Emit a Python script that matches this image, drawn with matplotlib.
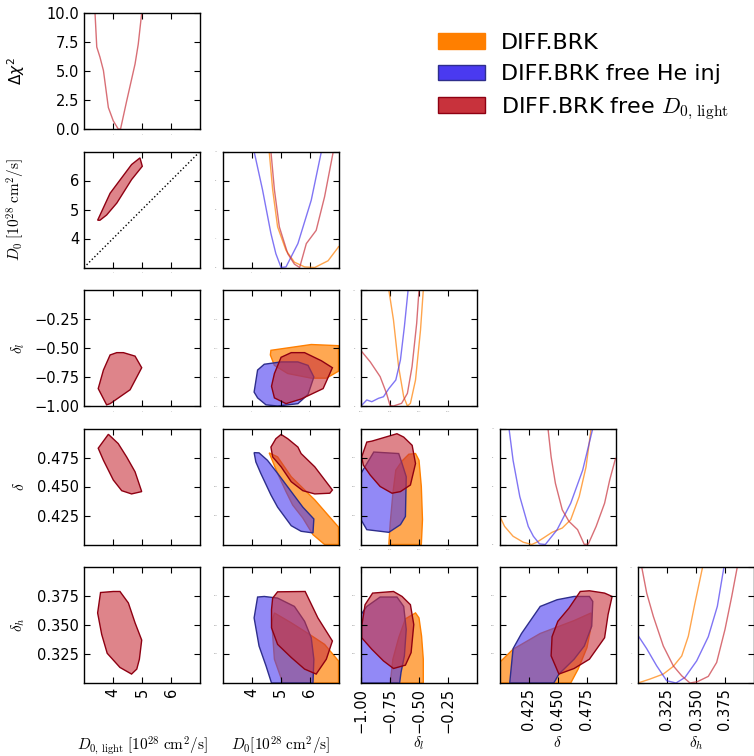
import numpy as np
import matplotlib
import matplotlib.pyplot as plt
from matplotlib.patches import Patch
from matplotlib.colors import to_rgba

# ------------------
# STYLE
# ------------------
plt.rcParams['font.size'] = 10.5
plt.rcParams['xtick.direction'] = 'in'
plt.rcParams['ytick.direction'] = 'in'
plt.rcParams['xtick.top'] = True
plt.rcParams['ytick.right'] = True
plt.rcParams['xtick.major.size'] = 4
plt.rcParams['ytick.major.size'] = 4
plt.rcParams['axes.linewidth'] = 1.0

orange = '#ff7f00'
blue = '#4a3af0'
blue_edge = '#2e2e8c'
red = '#c8323c'
red_edge = '#8e0012'

# ------------------
# AXES SETUP
# ------------------
labels = [r'$D_{0,\,\mathrm{light}}\;[10^{28}\;\mathrm{cm^2/s}]$',
          r'$D_0[10^{28}\;\mathrm{cm^2/s}]$',
          r'$\delta_l$', r'$\delta$', r'$\delta_h$']
row_labels = [r'$\Delta\chi^2$',
              r'$D_0\;[10^{28}\;\mathrm{cm^2/s}]$',
              r'$\delta_l$', r'$\delta$', r'$\delta_h$']
limits = [(3, 7), (3, 7), (-1, 0), (0.4, 0.5), (0.3, 0.4)]
ticks = [[4, 5, 6], [4, 5, 6], [-1.0, -0.75, -0.5, -0.25],
         [0.425, 0.45, 0.475], [0.325, 0.35, 0.375]]
chi_lim = (0, 10)
chi_ticks = [0, 2.5, 5, 7.5, 10]

# ------------------
# 1D PROFILES (Delta chi^2)
# ------------------
chi_D0l_red_x = [3.36, 3.38, 3.44, 3.55, 3.67, 3.84, 4.01, 4.18, 4.26, 4.47, 4.76, 4.87, 4.99, 5.0]
chi_D0l_red_y = [12, 10, 7.07, 6.2, 5.04, 1.85, 0.7, 0.0, 0.0, 2.4, 5.6, 7.3, 10, 10.5]

chi_D0_blue_x = [4.05, 4.09, 4.38, 4.67, 4.84, 5.02, 5.19, 5.6, 6.06, 6.41, 6.45]
chi_D0_blue_y = [11, 10, 6.7, 2.93, 1.19, 0.0, 0.05, 2.06, 5.8, 10, 11]
chi_D0_orange_x = [4.58, 4.61, 4.73, 4.90, 5.19, 5.48, 5.83, 6.18, 6.64, 6.99, 7.0]
chi_D0_orange_y = [11, 10, 6.7, 3.5, 1.48, 0.46, 0.05, 0.0, 0.58, 1.74, 1.8]
chi_D0_red_x = [4.65, 4.67, 4.79, 4.96, 5.25, 5.48, 5.66, 5.89, 6.23, 6.52, 6.82, 6.85]
chi_D0_red_y = [11, 10, 6.7, 3.5, 1.19, 0.29, 0.0, 2.06, 3.2, 6.1, 10, 11]

chi_dl_red_x = [-1.0, -0.92, -0.835, -0.78, -0.75, -0.72, -0.65, -0.60, -0.56, -0.52, -0.50, -0.495]
chi_dl_red_y = [4.77, 3.8, 2.53, 1.09, 0.05, 0.0, 0.23, 1.09, 3.39, 7.13, 10, 11]
chi_dl_blue_x = [-1.0, -0.95, -0.907, -0.85, -0.806, -0.76, -0.70, -0.66, -0.626, -0.594, -0.59]
chi_dl_blue_y = [0.0, 0.52, 0.37, 0.66, 0.8, 1.5, 2.24, 3.97, 6.84, 10, 11]
chi_dl_orange_x = [-0.765, -0.76, -0.72, -0.676, -0.632, -0.60, -0.574, -0.53, -0.487, -0.463, -0.46]
chi_dl_orange_y = [11, 10, 7.41, 3.39, 0.8, 0.0, 0.23, 2.24, 6.55, 10, 11]

chi_d_blue_x = [0.407, 0.4082, 0.4117, 0.4175, 0.4248, 0.4292, 0.4345, 0.4395, 0.4497, 0.4614, 0.4717, 0.4804, 0.481]
chi_d_blue_y = [11, 10, 7.26, 4.13, 1.56, 0.71, 0.05, 0.0, 1.28, 3.56, 6.41, 10, 11]
chi_d_orange_x = [0.4, 0.4044, 0.4117, 0.4204, 0.4278, 0.4322, 0.438, 0.4453, 0.4541, 0.4614, 0.4687, 0.4746, 0.479, 0.48]
chi_d_orange_y = [2.48, 1.56, 0.71, 0.2, 0.0, 0.2, 0.57, 1.05, 1.42, 2.14, 4.13, 6.69, 10, 11]
chi_d_red_x = [0.441, 0.4418, 0.4445, 0.4482, 0.4541, 0.4599, 0.4673, 0.4731, 0.4766, 0.4833, 0.4906, 0.495, 0.5]
chi_d_red_y = [11, 10, 7.55, 5.27, 2.99, 1.99, 1.28, 0.0, 0.05, 1.56, 3.56, 5.56, 7.41]

chi_dh_red_x = [0.303, 0.3032, 0.3075, 0.3132, 0.3218, 0.3304, 0.3377, 0.3448, 0.3511, 0.3606, 0.3678, 0.375, 0.3808, 0.3856, 0.386]
chi_dh_red_y = [11, 10, 7.75, 5.75, 3.19, 1.48, 0.62, 0.0, 0.11, 0.57, 1.77, 4.62, 7.46, 10, 11]
chi_dh_blue_x = [0.3, 0.3075, 0.3161, 0.3247, 0.3328, 0.3405, 0.3506, 0.3606, 0.3684, 0.3741, 0.375]
chi_dh_blue_y = [4.1, 2.96, 1.48, 0.2, 0.0, 0.48, 1.91, 3.99, 6.61, 10, 11]
chi_dh_orange_x = [0.3, 0.3103, 0.3218, 0.3304, 0.3377, 0.3434, 0.3491, 0.3557, 0.357]
chi_dh_orange_y = [0.0, 0.34, 0.77, 1.43, 2.33, 4.04, 6.89, 10, 11]

# ------------------
# 2D CONTOURS (vertices, x then y)
# ------------------
red_D0_D0l = [(3.47, 4.63), (3.90, 5.56), (4.64, 6.55), (4.93, 6.78), (5.01, 6.49),
              (4.64, 6.03), (4.13, 5.22), (3.78, 4.81), (3.55, 4.63)]

red_dl_D0l = [(3.78, -0.99), (3.49, -0.85), (3.67, -0.69), (3.90, -0.56), (4.13, -0.54),
              (4.36, -0.54), (4.76, -0.57), (4.99, -0.67), (4.59, -0.86), (3.90, -0.98)]
orange_dl_D0 = [(4.67, -0.52), (6.06, -0.47), (7.0, -0.48), (7.0, -0.70), (6.58, -0.76),
                (6.06, -0.76), (5.25, -0.72), (4.79, -0.65), (4.65, -0.56)]
blue_dl_D0 = [(4.09, -0.88), (4.21, -0.69), (4.44, -0.64), (5.02, -0.62), (5.60, -0.62),
              (5.95, -0.65), (6.15, -0.75), (5.95, -0.90), (5.60, -0.98), (4.9, -1.0),
              (4.5, -0.99), (4.21, -0.93)]
red_dl_D0 = [(4.69, -0.83), (4.79, -0.72), (5.02, -0.58), (5.37, -0.54), (5.83, -0.54),
             (6.41, -0.61), (6.79, -0.67), (6.47, -0.85), (5.71, -0.94), (5.19, -0.98),
             (4.79, -0.93)]

red_d_D0l = [(3.49, 0.483), (3.84, 0.495), (4.18, 0.487), (4.47, 0.4755), (4.76, 0.4627),
             (4.99, 0.4456), (4.64, 0.4436), (4.30, 0.4464), (4.01, 0.4556), (3.67, 0.4726)]
orange_d_D0 = [(4.61, 0.479), (4.90, 0.4755), (5.37, 0.4584), (6.18, 0.4385), (7.0, 0.415),
               (7.0, 0.4), (6.52, 0.4), (6.12, 0.4085), (5.77, 0.4228), (5.42, 0.434),
               (5.19, 0.4456), (4.90, 0.4613)]
blue_d_D0 = [(4.09, 0.4792), (4.26, 0.479), (4.55, 0.4726), (4.90, 0.4613), (5.37, 0.4456),
             (5.77, 0.4322), (6.15, 0.422), (6.12, 0.41), (5.71, 0.4114), (5.37, 0.4162),
             (4.9, 0.4322), (4.67, 0.4427), (4.32, 0.4613), (4.15, 0.4712)]
red_d_D0 = [(4.67, 0.484), (4.84, 0.4912), (5.02, 0.4949), (5.25, 0.4912), (5.6, 0.484),
            (5.71, 0.4784), (6.18, 0.467), (6.79, 0.447), (6.70, 0.4442), (6.18, 0.4436),
            (5.77, 0.4464), (5.37, 0.4541), (5.02, 0.467), (4.73, 0.4755)]

orange_d_dl = [(-0.76, 0.4), (-0.748, 0.4185), (-0.725, 0.4442), (-0.70, 0.4641), (-0.646, 0.472),
               (-0.588, 0.4778), (-0.53, 0.4784), (-0.50, 0.4726), (-0.48, 0.45), (-0.47, 0.4214),
               (-0.48, 0.4)]
blue_d_dl = [(-1.0, 0.4613), (-0.89, 0.4797), (-0.675, 0.4784), (-0.646, 0.4698), (-0.61, 0.4584),
             (-0.617, 0.4242), (-0.66, 0.4171), (-0.76, 0.4105), (-0.95, 0.4128), (-1.0, 0.4214)]
red_d_dl = [(-0.994, 0.4755), (-0.95, 0.4883), (-0.907, 0.4891), (-0.69, 0.4955), (-0.632, 0.4926),
            (-0.559, 0.4855), (-0.53, 0.4698), (-0.574, 0.4513), (-0.66, 0.4456), (-0.733, 0.4442),
            (-0.835, 0.45), (-0.92, 0.4598), (-0.98, 0.4684)]

red_dh_D0l = [(3.57, 0.378), (4.01, 0.3789), (4.24, 0.3789), (4.53, 0.369), (4.76, 0.3519),
              (4.99, 0.337), (4.91, 0.3205), (4.82, 0.312), (4.64, 0.3077), (4.24, 0.3134),
              (3.80, 0.3256), (3.61, 0.3419), (3.47, 0.3604)]
orange_dh_D0 = [(4.79, 0.3604), (5.37, 0.3519), (6.00, 0.3419), (6.52, 0.3333), (7.0, 0.319),
                (7.0, 0.3), (5.08, 0.3), (4.79, 0.3205), (4.70, 0.3519)]
blue_dh_D0 = [(4.21, 0.3741), (4.44, 0.3746), (4.9, 0.3732), (5.48, 0.366), (5.83, 0.3532),
              (6.06, 0.339), (6.15, 0.3205), (6.12, 0.3), (4.69, 0.3), (4.5, 0.3148),
              (4.26, 0.3319), (4.09, 0.3561)]
red_dh_D0 = [(4.73, 0.3732), (4.9, 0.3786), (5.85, 0.3789), (6.29, 0.3561), (6.79, 0.3362),
             (6.58, 0.3205), (6.23, 0.3077), (5.83, 0.312), (5.37, 0.322), (4.9, 0.3333),
             (4.69, 0.3476), (4.69, 0.3632)]

orange_dh_dl = [(-0.748, 0.3), (-0.725, 0.3205), (-0.675, 0.339), (-0.617, 0.3553), (-0.53, 0.3604),
                (-0.50, 0.3561), (-0.478, 0.3405), (-0.463, 0.3205), (-0.463, 0.3)]
blue_dh_dl = [(-1.0, 0.359), (-0.95, 0.366), (-0.835, 0.3741), (-0.69, 0.3741), (-0.632, 0.366),
              (-0.61, 0.3462), (-0.626, 0.3234), (-0.655, 0.3091), (-0.667, 0.3), (-1.0, 0.3)]
red_dh_dl = [(-0.965, 0.3675), (-0.9, 0.3775), (-0.72, 0.3789), (-0.646, 0.3746), (-0.574, 0.3675),
             (-0.545, 0.3504), (-0.568, 0.3262), (-0.617, 0.3154), (-0.72, 0.3125), (-0.806, 0.319),
             (-0.907, 0.3291), (-0.994, 0.339), (-0.994, 0.349)]

orange_dh_d = [(0.4, 0.3177), (0.4117, 0.3291), (0.4351, 0.3427), (0.4643, 0.3538), (0.479, 0.3604),
               (0.479, 0.349), (0.4754, 0.3305), (0.4678, 0.312), (0.4614, 0.3), (0.4, 0.3)]
blue_dh_d = [(0.4088, 0.3), (0.4117, 0.3296), (0.419, 0.3427), (0.4351, 0.366), (0.4497, 0.3718),
             (0.4643, 0.3746), (0.4775, 0.3746), (0.4804, 0.3703), (0.4795, 0.349), (0.4731, 0.3319),
             (0.4643, 0.3205), (0.4512, 0.3077), (0.4468, 0.3)]
red_dh_d = [(0.4503, 0.3532), (0.4599, 0.3646), (0.4696, 0.3789), (0.4775, 0.3795), (0.4906, 0.3775),
            (0.4971, 0.3746), (0.4936, 0.359), (0.4906, 0.339), (0.4775, 0.3205), (0.4643, 0.3125),
            (0.4512, 0.3077), (0.4445, 0.3234), (0.4453, 0.3399)]

profiles = {
    0: [(chi_D0l_red_x, chi_D0l_red_y, red)],
    1: [(chi_D0_orange_x, chi_D0_orange_y, orange), (chi_D0_blue_x, chi_D0_blue_y, blue),
        (chi_D0_red_x, chi_D0_red_y, red)],
    2: [(chi_dl_orange_x, chi_dl_orange_y, orange), (chi_dl_blue_x, chi_dl_blue_y, blue),
        (chi_dl_red_x, chi_dl_red_y, red)],
    3: [(chi_d_orange_x, chi_d_orange_y, orange), (chi_d_blue_x, chi_d_blue_y, blue),
        (chi_d_red_x, chi_d_red_y, red)],
    4: [(chi_dh_orange_x, chi_dh_orange_y, orange), (chi_dh_blue_x, chi_dh_blue_y, blue),
        (chi_dh_red_x, chi_dh_red_y, red)],
}

contours = {
    (1, 0): [('red', red_D0_D0l)],
    (2, 0): [('red', red_dl_D0l)],
    (2, 1): [('orange', orange_dl_D0), ('blue', blue_dl_D0), ('red', red_dl_D0)],
    (3, 0): [('red', red_d_D0l)],
    (3, 1): [('orange', orange_d_D0), ('blue', blue_d_D0), ('red', red_d_D0)],
    (3, 2): [('orange', orange_d_dl), ('blue', blue_d_dl), ('red', red_d_dl)],
    (4, 0): [('red', red_dh_D0l)],
    (4, 1): [('orange', orange_dh_D0), ('blue', blue_dh_D0), ('red', red_dh_D0)],
    (4, 2): [('orange', orange_dh_dl), ('blue', blue_dh_dl), ('red', red_dh_dl)],
    (4, 3): [('orange', orange_dh_d), ('blue', blue_dh_d), ('red', red_dh_d)],
}

styles = {
    'orange': dict(fc=to_rgba(orange, 0.68), ec=orange),
    'blue': dict(fc=to_rgba(blue, 0.6), ec=blue_edge),
    'red': dict(fc=to_rgba(red, 0.6), ec=red_edge),
}

# ------------------
# FIGURE
# ------------------
W, H = 754, 756
fig = plt.figure(figsize=(W / 100, H / 100), dpi=100)

n = 5
step = 138.5
size = 116

for i in range(n):
    for j in range(i + 1):
        left = 84 + step * j
        top = 13 + step * i
        ax = fig.add_axes([left / W, 1 - (top + size) / H, size / W, size / H])
        ax.set_xlim(limits[j])
        ax.set_xticks(ticks[j])

        if i == j:
            for xs, ys, c in profiles[i]:
                ax.plot(xs, ys, color=c, lw=1.0, alpha=0.7)
            ax.set_ylim(chi_lim)
            ax.set_yticks(chi_ticks)
        else:
            ax.set_ylim(limits[i])
            ax.set_yticks(ticks[i])
            for name, verts in contours[(i, j)]:
                pts = np.array(verts)
                ax.fill(pts[:, 0], pts[:, 1], lw=1.0, **styles[name])
            if (i, j) == (1, 0):
                ax.plot(limits[0], limits[0], color='k', ls=':', lw=1)

        # outer labels readable, inner ones shrunk to dots
        if i == n - 1:
            ax.tick_params(axis='x', labelrotation=90)
            ax.set_xlabel(labels[j], math_fontfamily='cm', fontsize=11)
            ax.xaxis.set_label_coords(0.5, -0.445)
        else:
            ax.tick_params(axis='x', labelsize=0.9, labelcolor='#888888')
        if j == 0:
            ax.set_ylabel(row_labels[i], fontsize=11,
                          math_fontfamily='dejavusans' if i == 0 else 'cm')
            ax.yaxis.set_label_coords(-0.49, 0.5)
        else:
            ax.tick_params(axis='y', labelsize=0.9, labelcolor='#888888')

# ------------------
# LEGEND
# ------------------
handles = [Patch(facecolor=orange, edgecolor=orange),
           Patch(facecolor=blue, edgecolor=blue_edge),
           Patch(facecolor=red, edgecolor=red_edge)]
names = ['DIFF.BRK', 'DIFF.BRK free He inj', r'DIFF.BRK free $D_{0,\,\mathrm{light}}$']
leg = fig.legend(handles, names, loc='upper left', bbox_to_anchor=(438 / W, 1 - 33 / H),
                 frameon=False, fontsize=16, borderpad=0, borderaxespad=0,
                 handlelength=2.1, handletextpad=0.75, labelspacing=0.5)
leg.get_texts()[2].set_math_fontfamily('cm')

fig.savefig('out.png', dpi=100)
